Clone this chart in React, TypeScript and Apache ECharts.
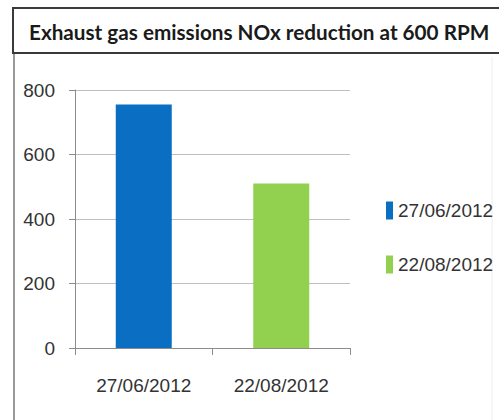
import React, { useEffect, useRef } from "react";
import * as echarts from "echarts";

const categories = ["27/06/2012", "22/08/2012"];
const seriesNames = ["27/06/2012", "22/08/2012"];
const valuesA: (number | string)[] = [755, "-"];
const valuesB: (number | string)[] = ["-", 510];
const yTicks = { min: 0, max: 800, interval: 200 };
const title = "Exhaust gas emissions NOx reduction at 600 RPM";
const colors = ["#0a6fc2", "#92d050"];

const NARROW = "'Liberation Sans', Arial, sans-serif";

export default function App() {
  const ref = useRef<HTMLDivElement>(null);
  useEffect(() => {
    if (!ref.current) return;
    const chart = echarts.init(ref.current, undefined, { renderer: "svg" });
    chart.setOption({
      animation: false,
      backgroundColor: "#ffffff",
      color: colors,
      graphic: [
        {
          type: "rect",
          shape: { x: 13, y: 8, width: 500, height: 45 },
          style: { fill: "#ffffff", stroke: "#3a3a3a", lineWidth: 2 },
          z: 0,
        },
        {
          type: "line",
          shape: { x1: 14, y1: 54, x2: 14, y2: 420 },
          style: { stroke: "#9a9a9a", lineWidth: 2 },
        },
        {
          type: "line",
          shape: { x1: 492, y1: 57, x2: 492, y2: 420 },
          style: { stroke: "#eeeeee", lineWidth: 1 },
        },
        {
          type: "text",
          x: 29,
          y: 32,
          style: {
            text: title,
            fill: "#1a1a1a",
            font: "bold 20.7px Lato, 'Open Sans', sans-serif",
            verticalAlign: "middle",
          },
          z: 10,
        },
      ],
      legend: {
        orient: "vertical",
        left: 381,
        top: 196,
        itemWidth: 7,
        itemHeight: 18,
        itemGap: 35,
        icon: "rect",
        data: seriesNames,
        textStyle: { fontFamily: NARROW, fontSize: 19, color: "#333333", padding: [0, 0, 0, 0] },
      },
      grid: { left: 75, right: 149, top: 90, bottom: 72 },
      xAxis: {
        type: "category",
        data: categories,
        axisLine: { lineStyle: { color: "#8c8c8c", width: 1 } },
        axisTick: { show: true, length: 7, lineStyle: { color: "#8c8c8c" } },
        axisLabel: { fontFamily: NARROW, fontSize: 19, color: "#333333", margin: 28, interval: 0 },
      },
      yAxis: {
        type: "value",
        min: yTicks.min,
        max: yTicks.max,
        interval: yTicks.interval,
        axisLine: { show: true, lineStyle: { color: "#8c8c8c", width: 1 } },
        axisTick: { show: true, length: 6, lineStyle: { color: "#8c8c8c" } },
        splitLine: { lineStyle: { color: "#bfbfbf" } },
        axisLabel: { fontFamily: NARROW, fontSize: 19, color: "#333333", margin: 20 },
      },
      series: [
        { name: seriesNames[0], type: "bar", stack: "s", data: valuesA, barWidth: 56 },
        { name: seriesNames[1], type: "bar", stack: "s", data: valuesB, barWidth: 56 },
      ],
    });
    return () => chart.dispose();
  }, []);
  return (
    <div
      ref={ref}
      style={{ position: "fixed", left: 0, top: 0, width: 499, height: 420 }}
    />
  );
}
